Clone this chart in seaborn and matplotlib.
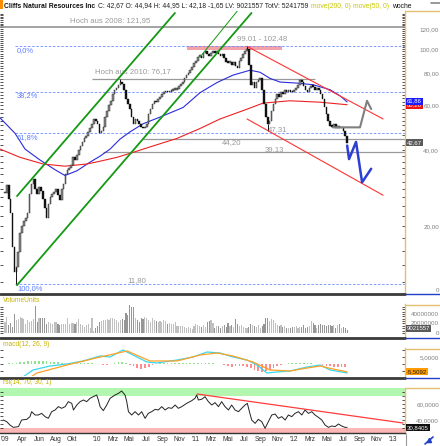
import numpy as np
import pandas as pd
import matplotlib
matplotlib.use("Agg")
import matplotlib.pyplot as plt
import seaborn as sns
from matplotlib.lines import Line2D
from matplotlib.patches import Rectangle
from matplotlib.ticker import NullFormatter

# ---------------- data (weekly, first week = 2009-01-26) ----------------
start_date = "2009-01-26"

close = [27, 29, 25.6, 22.5, 16.5, 13.2, 13.8, 15.8, 18.8, 20,
         21, 21.5, 22.5, 26.8, 29.3, 30.6, 28, 26.8, 28.5, 27.5,
         25.6, 23.5, 21.5, 24.5, 26, 26.8, 27.2, 28, 26.6, 25.4,
         28, 29.3, 32, 33.4, 34, 35, 37.5, 36.5, 38.1, 39.9,
         41.6, 43, 44.5, 45.2, 46.9, 48.6, 50.7, 53, 52, 50.7,
         46.5, 47.6, 49.3, 53.9, 56.8, 60, 62.2, 66.2, 69.1, 70.4,
         72.3, 74.1, 72.8, 69.1, 63.3, 60.6, 57.9, 53.9, 50.7, 53,
         52, 50.7, 49.3, 48.6, 49.3, 50.7, 55.4, 57.9, 60.6, 62.2,
         61.7, 63.3, 64.4, 66.2, 67.4, 67.9, 67.4, 67.9, 68.5, 69.1,
         69.1, 69.8, 71.7, 72.8, 74.1, 76.6, 78.9, 80.7, 82.5, 85.1,
         87.7, 90.1, 93.3, 94.2, 92.4, 96.4, 98.1, 95.2, 94.2, 96.4,
         98.1, 96.4, 98.1, 95.2, 94.2, 95.2, 92, 89.2, 88.4, 89.2,
         86.2, 89.2, 85.5, 84, 90.1, 92.4, 95.2, 98.1, 100, 86.2,
         72.3, 74.1, 70.4, 74.1, 75.5, 77.1, 69.1, 60.6, 53.9, 50.7,
         52, 56.8, 60.6, 63.3, 66.2, 64.4, 67.4, 66.2, 69.1, 67.9,
         69.1, 67.9, 67.4, 69.1, 70.4, 72.3, 75.5, 74.1, 71.7, 69.1,
         67.4, 70.4, 71.7, 71.1, 69.1, 69.8, 69.1, 66.2, 63.3, 59,
         55.4, 52, 49.8, 49.3, 50.7, 48.6, 49.8, 48.6, 49.3, 47.6,
         45.4, 42.67]

volume_m = [23.9, 34.4, 16.8, 20.4, 13.3, 39.3, 27.4, 28.8, 33.0, 32.3, 30.0,
            18.3, 27.4, 22.5, 25.3, 28.8, 57.5, 22.5, 30.9, 32.3, 30.9,
            32.3, 18.3, 23.9, 20.4, 18.3, 23.9, 22.5, 18.3, 16.8, 18.3, 19.0,
            19.6, 30.9, 18.3, 20.4, 21.1, 18.3, 22.5, 28.8, 18.3, 16.8,
            13.3, 16.8, 18.9, 11.2, 32.3, 4.2, 11.2, 15.4, 22.5, 25.3, 28.0,
            27.4, 29.5, 27.4, 30.9, 32.3, 29.5, 27.4, 22.5, 27.4, 29.5,
            27.4, 41.4, 37.9, 58.9, 55.4, 55.4, 30.9, 27.4, 23.9, 30.9, 29.0,
            34.4, 32.3, 27.4, 23.9, 30.9, 27.4, 25.3, 23.9, 25.3, 22.5,
            27.4, 25.3, 18.3, 20.4, 18.3, 18.3, 22.5, 15.4, 15.4, 15.4, 14.0,
            13.3, 11.2, 13.3, 11.2, 8.4, 15.4, 18.3, 16.8, 15.4, 13.3,
            16.8, 13.3, 22.5, 25.3, 27.4, 20.4, 11.2, 15.4, 15.4, 11.2, 15.0,
            16.8, 13.3, 20.4, 15.4, 16.8, 13.3, 29.5, 18.3, 15.4, 16.8,
            13.3, 11.2, 11.2, 13.3, 18.3, 16.8, 15.4, 13.3, 16.8, 11.2, 14.0,
            18.3, 30.9, 30.9, 25.3, 29.5, 27.4, 20.4, 16.8, 15.4, 16.8,
            13.3, 15.4, 11.2, 9.8, 11.2, 13.3, 13.3, 15.4, 9.8, 13.3, 12.0,
            16.8, 9.8, 13.3, 15.4, 25.3, 20.4, 16.8, 9.8, 16.8, 18.3, 16.0,
            16.8, 15.4, 16.8, 16.8, 15.4, 16.8, 11.2, 16.8, 18.3, 9.8,
            13.3, 11.2, 6.3]

wick_low_weeks = [6, 139]
wick_low_vals = [11.80, 47.31]
wick_high_weeks = [61, 128]
wick_high_vals = [76.17, 102.48]

ma50_weeks = [-2.6, 5.3, 10.6, 18.5, 26.5, 31.7, 38.1, 45, 50.3, 55.6, 60.8, 66.1, 73, 82,
              94.2, 103.2, 112.2, 120.6, 129.6, 134.9, 140.2, 145.5, 154.5, 163, 172, 177.2, 181]
ma50_vals = [53.5, 46.5, 40.3, 36.5, 33.4, 31.7, 33.1, 35.8, 37.8, 40.3, 44.1, 47.1, 50.7, 53.9,
             58.8, 67.3, 73.8, 78.9, 82.5, 81.0, 76.6, 74.1, 73.4, 72.3, 69.1, 65.4, 61.86]
ma200_weeks = [-2.6, 7.9, 20.1, 31.7, 43.4, 50.3, 59.3, 67.7, 76.7, 91, 103.2, 113.8, 128,
               136.5, 150.8, 166.7, 181]
ma200_vals = [40.3, 37.4, 35.2, 34.5, 35.2, 36.1, 37.4, 39.1, 41.1, 44.4, 48.6, 53.0, 57.9,
              61.2, 62.5, 61.7, 60.3]

macd_weeks = [6.9, 9.5, 14.8, 23.8, 32.8, 41.3, 50.3, 55.6, 62.4, 67.7, 75.1, 80.4, 91, 99.5,
              106.9, 113.8, 120.6, 128, 133.3, 138.6, 143.9, 150.8, 159.8, 166.7, 172, 181]
macd_vals = [-14, -9.1, -4.2, -1.4, 0.0, 2.1, 5.6, 4.9, 9.8, 6.3, 1.4, 0.7, 2.8, 4.9,
             8.4, 7.7, 4.9, 2.8, -0.7, -6.3, -5.6, -4.9, -2.1, -0.7, -4.2, -6.3]
signal_weeks = [13.2, 16.9, 32.8, 50.3, 64.6, 76.7, 91, 103.2, 112.2, 120.6, 131.2, 140.2,
                150.8, 159.8, 166.7, 173.5, 181]
signal_vals = [-9.5, -6.3, -0.7, 4.9, 9.1, 2.1, 2.1, 6.3, 7.7, 5.6, 1.4, -4.2,
               -4.9, -2.8, -1.4, -3.5, -5.5092]
hist_vals = [0, 0.7, 0.9, 1.0, 1.1, 1.3, 1.8, 2.1, 2.4, 2.4, 2.1, 1.8, 1.5, 1.2, 1.1, 1.0,
             0.9, 0.9, 0.8, 0.7, 0.7, 0.6, 0.6, 0.4, 0.3, 0.1, -0.7, -0.9, 0.3, 0.9, 1.1, 1.1,
             0.7, -0.4, -1.7, -2.8, -3.4, -2.8, -2.0, -0.6, 0.3, 0.4, 0.4, 0.6, 0.6, 0.6, 0.6,
             0.7, 0.7, 0.8, 0.8, 0.9, 0.9, 0.9, 0.7, 0.4, 0.2, 0, -0.9, -1.7, -2.0, -1.7, -1.3,
             -1.7, -2.0, -2.8, -3.9, -5.0, -5.6, -5.0, -3.9, -2.8, -1.7, -0.7, 0.3, 0.6, 0.7,
             0.8, 0.8, 0.7, 0.6, 0.4, 0.3, 0.2, -0.6, -1.1, -1.7, -2.2, -2.2, -2.2, -2.2]

rsi_weeks = [-0.9, 0.9, 2.6, 4.4, 7.1, 8.8, 11.5, 13.2, 14.1, 15.9,
             17.6, 19.4, 21.2, 22.9, 24.7, 26.5, 28.2, 30, 31.8, 33.5,
             35.3, 36.2, 38, 39.7, 41.5, 43.2, 45, 46.7, 48.5, 49.4,
             50.3, 52, 53.8, 55.6, 58.2, 60, 61.7, 63.5, 64.4, 65.3,
             67, 68.8, 70.6, 72.3, 74.1, 75.8, 77.6, 79.4, 81.1, 82.9,
             84.7, 86.4, 88.2, 90, 91.7, 93.5, 96.1, 98.8, 100.5, 101.4,
             102.3, 104.1, 105.8, 107.6, 109.4, 111.1, 112.9, 114.6, 116.4, 118.2,
             119.9, 121.7, 123.5, 125.2, 127, 128.2, 129.3, 130.5, 132.3, 134,
             135.8, 137.6, 139.3, 141.1, 142.9, 144.6, 146.4, 148.2, 149.9, 151.7,
             153.4, 155.2, 157, 158.7, 160.5, 162.3, 164, 165.8, 167.6, 169.3,
             171.1, 172.9, 174.6, 176.4, 178.1, 179.9, 181]
rsi_vals = [40, 37.9, 33.75, 30.8, 31.7, 40, 40.8, 44.2, 50.4, 46.25,
            46.25, 48.3, 44.2, 42.1, 50.4, 52.5, 56.7, 54.6, 56.7, 62.9,
            60.8, 52.5, 58.75, 62.9, 65, 62.9, 67.1, 69.2, 71.25, 65,
            56.7, 51.7, 58.75, 67.1, 71.25, 73.3, 76.25, 71.25, 62.9, 50.4,
            46.25, 50.4, 46.25, 50.4, 42.1, 48.3, 50.4, 53.3, 52.5, 56.7,
            52.5, 55.4, 54.6, 58.75, 54.6, 56.7, 60.8, 64.2, 67.1, 71.25,
            65, 66, 69.2, 62.9, 58.75, 61.7, 56.7, 62.9, 56.7, 52.5,
            58.75, 52.5, 50.4, 54.6, 58.75, 60.8, 50.4, 40, 35.8, 40.8,
            37.9, 29.6, 37.9, 46.25, 47.5, 42.1, 44.2, 40, 46.25, 44.2,
            48.3, 50.4, 46.25, 52.5, 48.3, 50.4, 46.25, 43.3, 40, 33.75,
            30.8, 32.5, 31.7, 35, 32.5, 30.8, 30.84]

month_labels = ["'09", "Apr", "Jun", "Aug", "Okt", "'10", "Mrz", "Mai", "Jul", "Sep", "Nov",
                "'11", "Mrz", "Mai", "Jul", "Sep", "Nov", "'12", "Mrz", "Mai", "Jul", "Sep",
                "Nov", "'13"]
month_dates = ["2009-01-26", "2009-04-01", "2009-06-01", "2009-08-01", "2009-10-01",
               "2010-01-01", "2010-03-01", "2010-05-01", "2010-07-01", "2010-09-01",
               "2010-11-01", "2011-01-01", "2011-03-01", "2011-05-01", "2011-07-01",
               "2011-09-01", "2011-11-01", "2012-01-01", "2012-03-01", "2012-05-01",
               "2012-07-01", "2012-09-01", "2012-11-01", "2013-01-01"]

# chart annotations (week, price)
fib_high, fib_low = 102.48, 11.80
fib_pcts = [0.0, 38.2, 61.8, 100.0]
fib_names = ["0,0%", "38,2%", "61,8%", "100,0%"]
hoch2008 = 121.95
hoch2010 = 76.17
level_a, level_b = 44.20, 39.13
zone_lo, zone_hi = 99.01, 102.48
green_upper = [(6.35, 26.3), (89.9, 138.8)]
green_lower = [(6.35, 11.7), (130.4, 138.8)]
green_thin = [(103.2, 93.1), (122.8, 141.0)]
red_upper = [(128.0, 102.5), (200.0, 53.0)]
red_lower = [(128.0, 53.0), (200.0, 26.5)]
blue_path = [(181, 41.6), (182.0, 36.8), (185.7, 43.0), (188.9, 29.8), (193.7, 33.7)]
gray_path = [(173.5, 49.1), (187.8, 49.1), (191.5, 62.5), (193.7, 58.0)]
rsi_trend = [(101.6, 72.5), (210.6, 36.25)]

# ---------------- styling ----------------
sns.set_style("white")
plt.rcParams["font.family"] = ["Liberation Sans", "DejaVu Sans"]

W, H = 440, 446
fig = plt.figure(figsize=(W / 100, H / 100), dpi=100, facecolor="white")


def add_ax(x0, y0, x1, y1):
    return fig.add_axes([x0 / W, 1 - y1 / H, (x1 - x0) / W, (y1 - y0) / H])


def fx(x):
    return x / W


def fy(y):
    return 1 - y / H


XL = (-2.65, 211.6)
TICKC = "#808080"
SPINE_Y = "#e3c070"


def style_axis(ax, pad=24.5):
    ax.set_xlim(*XL)
    for s in ["top", "left", "bottom"]:
        ax.spines[s].set_visible(False)
    ax.spines["right"].set_color(SPINE_Y)
    ax.spines["right"].set_linewidth(1.0)
    ax.tick_params(axis="y", which="both", direction="in", left=True, right=True,
                   labelleft=False, labelright=True, length=2.3, width=0.6,
                   color="#333333", labelsize=4.5, labelcolor=TICKC, pad=pad)
    ax.tick_params(axis="x", length=0, labelbottom=False)
    ax.set_xlabel("")
    ax.set_ylabel("")
    for t in ax.get_yticklabels():
        t.set_ha("right")


weeks = np.arange(len(close))
close_a = np.array(close)
opens = np.r_[close_a[0], close_a[:-1]]
up = close_a >= opens

# ---------------- main price panel ----------------
ax = add_ax(0, 11, 405, 292)
ax.set_yscale("log")
ax.set_ylim(11.0, 141.3)

body_lo = np.minimum(opens, close_a)
body_hi = np.maximum(opens, close_a)
body_h = np.maximum(body_hi - body_lo, body_lo * 0.015)
ax.bar(weeks, body_h, bottom=body_lo, width=0.85,
       color=np.where(up, "#8c8c8c", "#111111"), edgecolor="#111111", linewidth=0.3, zorder=4)
ax.vlines(wick_low_weeks, wick_low_vals, close_a[wick_low_weeks], color="#111111", lw=0.7, zorder=4)
ax.vlines(wick_high_weeks, close_a[wick_high_weeks], wick_high_vals, color="#111111", lw=0.7, zorder=4)

# moving averages
sns.lineplot(x=ma50_weeks, y=ma50_vals, ax=ax, color="#2b2bdd", lw=0.8, zorder=3)
sns.lineplot(x=ma200_weeks, y=ma200_vals, ax=ax, color="#ee2222", lw=0.8, zorder=3)

# horizontal levels
ax.axhline(hoch2008, color="#8a8a8a", lw=1.1, zorder=2)
ax.text(34.4, 129.0, "Hoch aus 2008: 121,95", fontsize=5.6, color="#9a9a9a", va="center")
ax.hlines(hoch2010, 46.0, 164.0, color="#9a9a9a", lw=0.9, zorder=2)
ax.text(47.6, 81.2, "Hoch aus 2010: 76,17", fontsize=5.6, color="#9a9a9a", va="center")
ax.hlines(level_a, 73.0, XL[1], color="#9a9a9a", lw=0.9, zorder=2)
ax.text(114.8, 42.7, "44,20", fontsize=5.6, color="#9a9a9a", va="center")
ax.hlines(level_b, 51.9, XL[1], color="#9a9a9a", lw=0.9, zorder=2)
ax.text(137.6, 40.3, "39,13", fontsize=5.6, color="#9a9a9a", va="center")
ax.text(139.2, 48.3, "47,31", fontsize=5.6, color="#9a9a9a", va="center")
ax.text(64.6, 12.2, "11,80", fontsize=5.6, color="#9a9a9a", va="center")

# resistance zone
ax.add_patch(Rectangle((96.3, zone_lo), 146.6 - 96.3, zone_hi - zone_lo,
                       facecolor="#f4a2aa", edgecolor="none", zorder=1))
ax.text(122.8, 108.6, "99.01 - 102.48", fontsize=5.6, color="#9a9a9a", va="center")

# fibonacci retracement
for pct, name in zip(fib_pcts, fib_names):
    lvl = fib_high - pct / 100.0 * (fib_high - fib_low)
    ax.hlines(lvl, 5.3, XL[1], color="#6d8dff", lw=0.6, linestyles=(0, (3, 2)), zorder=2)
    ax.text(6.35, lvl * 0.965, name, fontsize=5.4, color="#5a7cff", va="center")

# trend lines
for pts, col, lw in [(green_upper, "#139913", 1.3), (green_lower, "#139913", 1.3),
                     (green_thin, "#139913", 0.7), (red_upper, "#ff3333", 0.8),
                     (red_lower, "#ff3333", 0.8)]:
    ax.plot([p[0] for p in pts], [p[1] for p in pts], color=col, lw=lw, zorder=5)
ax.plot([p[0] for p in gray_path], [p[1] for p in gray_path], color="#808080", lw=1.5, zorder=5)
ax.plot([p[0] for p in blue_path], [p[1] for p in blue_path], color="#2e3fd3", lw=1.8, zorder=5)

ax.set_yticks([20, 40, 60, 80, 100, 120], ["20,00", "40,00", "60,00", "80,00", "100,00", "120,00"])
ax.set_yticks([v for v in range(12, 140, 2) if v not in (20, 40, 60, 80, 100, 120)], minor=True)
ax.yaxis.set_minor_formatter(NullFormatter())
style_axis(ax)

tr = ax.get_yaxis_transform()
ax.text(1.005, 60.0, "60,28", transform=tr, fontsize=4.3, color="white", va="center", ha="left",
        clip_on=False, zorder=10, bbox=dict(boxstyle="square,pad=0.15", fc="#ee1111", ec="none"))
ax.text(1.005, 62.3, "61,86", transform=tr, fontsize=4.3, color="white", va="center", ha="left",
        clip_on=False, zorder=11, bbox=dict(boxstyle="square,pad=0.15", fc="#1a1aff", ec="none"))
ax.text(1.005, 42.67, "42,67", transform=tr, fontsize=4.3, color="white", va="center", ha="left",
        clip_on=False, zorder=11, bbox=dict(boxstyle="square,pad=0.15", fc="#5a5a5a", ec="none"))
fig.text(fx(439), fy(290), "0", fontsize=4.5, color=TICKC, ha="right", va="center")

# ---------------- volume panel ----------------
axv = add_ax(0, 304, 405, 337)
vol = np.array(volume_m) * 1e6
axv.bar(weeks[:len(vol)], vol, width=0.6,
        color=np.where(up[:len(vol)], "#c0c0c0", "#969696"), linewidth=0)
axv.set_ylim(-8.4e6, 61e6)
axv.set_yticks([0, 20e6, 40e6], ["0", "20000000", "40000000"])
axv.set_yticks([v * 1e6 for v in (5, 10, 15, 25, 30, 35, 45, 50, 55)], minor=True)
axv.yaxis.set_minor_formatter(NullFormatter())
style_axis(axv)
axv.text(1.005, 9021557, "9021557", transform=axv.get_yaxis_transform(), fontsize=4.3,
         color="white", va="center", ha="left", clip_on=False, zorder=10,
         bbox=dict(boxstyle="square,pad=0.15", fc="#5a5a5a", ec="none"))

# ---------------- MACD panel ----------------
axm = add_ax(0, 348, 405, 376)
hw = np.arange(len(hist_vals)) * 2
hv = np.array(hist_vals)
axm.bar(hw, hv, width=0.9, color=np.where(hv >= 0, "#8ee38e", "#ff8c8c"), linewidth=0)
sns.lineplot(x=macd_weeks, y=macd_vals, ax=axm, color="#35d8ee", lw=0.9)
sns.lineplot(x=signal_weeks, y=signal_vals, ax=axm, color="#ffa024", lw=0.9)
axm.set_ylim(-8.4, 11.2)
axm.set_yticks([5], ["5,0000"])
axm.set_yticks([-5, 0, 10], minor=True)
axm.yaxis.set_minor_formatter(NullFormatter())
style_axis(axm)
axm.text(1.005, -5.5092, "-5,5092", transform=axm.get_yaxis_transform(), fontsize=4.3,
         color="#202020", va="center", ha="left", clip_on=False, zorder=10,
         bbox=dict(boxstyle="square,pad=0.15", fc="#ff9a00", ec="none"))

# ---------------- RSI panel ----------------
axr = add_ax(0, 388, 405, 433)
axr.axhspan(70, 80, color="#b3f6b0", lw=0, zorder=0)
axr.axhspan(23.75, 30, color="#fbb6b6", lw=0, zorder=0)
sns.lineplot(x=rsi_weeks, y=rsi_vals, ax=axr, color="#222222", lw=0.7)
axr.plot([p[0] for p in rsi_trend], [p[1] for p in rsi_trend], color="#ff3b3b", lw=0.9)
axr.set_ylim(23.75, 80)
axr.set_yticks([40, 60], ["40,0000", "60,0000"])
axr.set_yticks([30, 35, 45, 50, 55, 65, 70, 75], minor=True)
axr.yaxis.set_minor_formatter(NullFormatter())
style_axis(axr)
axr.text(1.005, 30.8405, "30,8405", transform=axr.get_yaxis_transform(), fontsize=4.3,
         color="white", va="center", ha="left", clip_on=False, zorder=10,
         bbox=dict(boxstyle="square,pad=0.15", fc="#111111", ec="none"))
start = pd.Timestamp(start_date)
mpos = [(pd.Timestamp(d) - start).days / 7 for d in month_dates]
axr.set_xticks(mpos, month_labels)
axr.tick_params(axis="x", length=0, labelbottom=True, labelsize=4.8, labelcolor="#333333", pad=2.5)
axr.spines["bottom"].set_visible(True)
axr.spines["bottom"].set_color("#333333")
axr.spines["bottom"].set_linewidth(1.0)

# ---------------- frame decorations ----------------
for y in (294, 338, 377.5):
    fig.add_artist(Line2D([0, fx(405)], [fy(y), fy(y)], color="#3a3a3a", lw=2.0))
    fig.add_artist(Line2D([fx(406), 1], [fy(y), fy(y)], color="#2040c8", lw=1.0))
for y in (11, 305, 349, 388):
    fig.add_artist(Line2D([fx(406), 1], [fy(y), fy(y)], color=SPINE_Y, lw=1.0))
fig.add_artist(Line2D([fx(406), fx(406)], [fy(434), 0], color="#999999", lw=0.8))
fig.add_artist(Line2D([fx(425), fx(433)], [fy(444), fy(437)], color="#2040c8", lw=1.2))
fig.add_artist(Line2D([fx(429)], [fy(440)], marker="^", color="#2040c8", markersize=3))
fig.add_artist(Line2D([fx(431), fx(440)], [fy(3), fy(3)], color="#888888", lw=1.2))
fig.add_artist(Rectangle((0, fy(9)), fx(3), 9 / H, transform=fig.transFigure,
                         facecolor="#ff8c00", edgecolor="none"))

# panel labels
fig.text(fx(3), fy(300), "VolumeUnits", fontsize=4.8, color="#c8b400", va="center")
fig.text(fx(3), fy(344), "macd(12, 26, 9)", fontsize=4.8, color="#c8b400", va="center")
fig.text(fx(3), fy(383), "rsi(14, 70, 30, 1)", fontsize=4.8, color="#c8b400", va="center")

# title line
segments = [("Cliffs Natural Resources Inc", "#111111", "bold"),
            ("C: 42,67 O: 44,94 H: 44,95 L: 42,18 -1,65 LV: 9021557 TotV: 5241759", "#222222", "normal"),
            ("move(200, 0)", "#c8c800", "normal"),
            ("move(50, 0)", "#c8c800", "normal"),
            ("woche", "#111111", "normal")]
fig.canvas.draw()
rend = fig.canvas.get_renderer()
xpos = 4.0
for s, c, wt in segments:
    t = fig.text(fx(xpos), fy(6), s, fontsize=4.85, color=c, fontweight=wt, va="center", ha="left")
    xpos += t.get_window_extent(renderer=rend).width + 2.6

fig.savefig("out.png", dpi=100, facecolor="white")
